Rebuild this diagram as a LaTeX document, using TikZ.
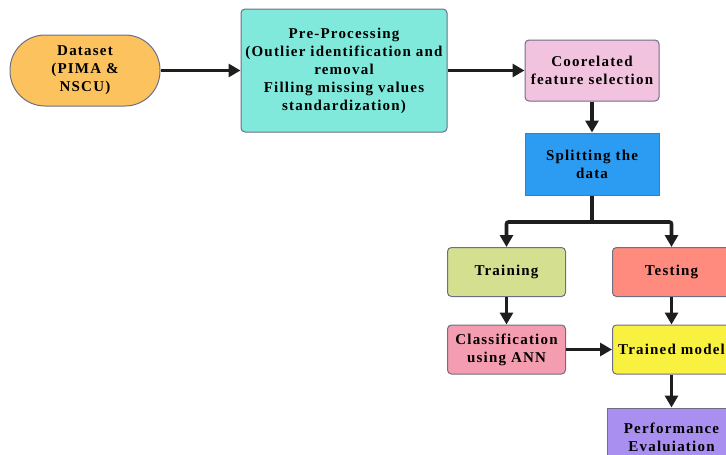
\documentclass[tikz,border=0pt]{standalone}
\usepackage{fontspec}
\setmainfont{Liberation Serif}[LetterSpace=8]
\usetikzlibrary{arrows.meta}
\definecolor{bordergray}{HTML}{6E6E86}
\definecolor{arrowblack}{HTML}{1E1E1E}
\definecolor{cdata}{HTML}{FBC25E}
\definecolor{cpre}{HTML}{80E9DB}
\definecolor{ccoor}{HTML}{F2C3DE}
\definecolor{csplit}{HTML}{2C9CF2}
\definecolor{ctrain}{HTML}{D4DF8F}
\definecolor{ctest}{HTML}{FF8A7E}
\definecolor{cclass}{HTML}{F59DB0}
\definecolor{ctrained}{HTML}{F8F140}
\definecolor{cperf}{HTML}{A98FF0}
\tikzset{
  box/.style={draw=bordergray, line width=1pt, rounded corners=4pt, align=center,
    font=\bfseries\fontsize{15}{18}\selectfont, inner sep=1pt},
  sharpbox/.style={box, rounded corners=0pt},
  conn/.style={draw=arrowblack, line width=3.6pt, rounded corners=2pt, -{Triangle[length=12pt,width=13pt]}},
  plainline/.style={draw=arrowblack, line width=3.6pt},
}
\begin{document}
\begin{tikzpicture}[x=1pt,y=-1pt]
\useasboundingbox (0,0) rectangle (726,455);
\clip (0,0) rectangle (726,455);
\node[box, fill=cdata, rounded corners=35pt, minimum width=150pt, minimum height=71pt] (ds) at (85,70.5) {Dataset\\(PIMA \&\\NSCU)};
\node[box, fill=cpre, minimum width=206pt, minimum height=123pt] (pp) at (344,70.5) {Pre-Processing\\(Outlier identification and\\removal\\Filling missing values\\standardization)};
\node[box, fill=ccoor, minimum width=134pt, minimum height=61pt] (co) at (592,70.5) {Coorelated\\feature selection};
\node[sharpbox, fill=csplit, minimum width=134pt, minimum height=62pt] (sp) at (592,164) {Splitting the\\data};
\node[box, fill=ctrain, minimum width=118pt, minimum height=49pt] (tr) at (506.5,272) {Training};
\node[box, fill=ctest, minimum width=118pt, minimum height=49pt] (te) at (671.5,272) {Testing};
\node[box, fill=cclass, minimum width=118pt, minimum height=49pt] (cl) at (506.5,349.5) {Classification\\using ANN};
\node[box, fill=ctrained, minimum width=118pt, minimum height=49pt] (tm) at (671.5,349.5) {Trained model};
\node[sharpbox, fill=cperf, minimum width=128pt, minimum height=58pt] (pe) at (671.5,437) {Performance\\Evaluiation};
\coordinate (j) at (592,222);
\draw[conn] (ds.east) -- (pp.west);
\draw[conn] (pp.east) -- (co.west);
\draw[conn] (co.south) -- (sp.north);
\draw[plainline] (sp.south) -- ([yshift=1.8pt]j);
\draw[conn] ([xshift=1pt]j) -| (tr.north);
\draw[conn] ([xshift=-1pt]j) -| (te.north);
\draw[conn] (tr.south) -- (cl.north);
\draw[conn] (te.south) -- (tm.north);
\draw[conn] (cl.east) -- (tm.west);
\draw[conn] (tm.south) -- (pe.north);
\end{tikzpicture}
\end{document}
